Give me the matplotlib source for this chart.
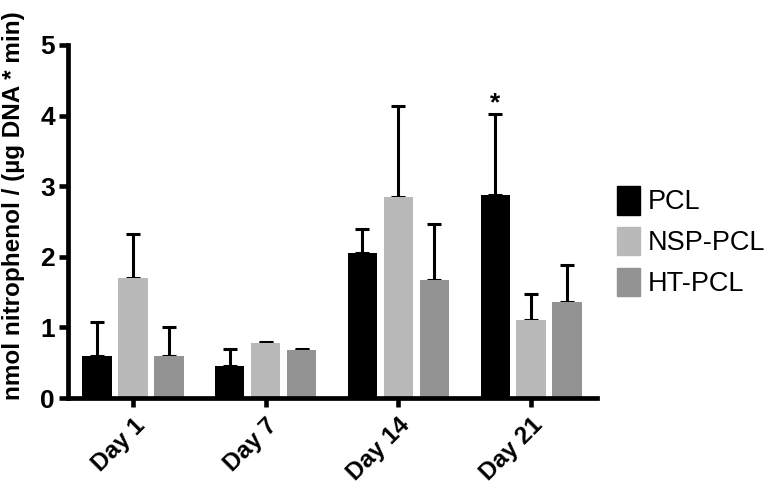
import numpy as np
import matplotlib.pyplot as plt
from matplotlib.patches import Patch

# ── data ------------------------------------------------------------------- #
days = ["Day 1", "Day 7", "Day 14", "Day 21"]
groups = ["PCL", "NSP-PCL", "HT-PCL"]
pcl = [0.59, 0.45, 2.05, 2.87]
nsp = [1.70, 0.78, 2.84, 1.11]
ht = [0.59, 0.68, 1.67, 1.36]
pcl_err = [0.48, 0.24, 0.34, 1.15]
nsp_err = [0.63, 0.01, 1.29, 0.37]
ht_err = [0.41, 0.02, 0.79, 0.53]
colors = ["#000000", "#b9b9b9", "#939393"]

plt.rcParams["font.family"] = ["Liberation Sans", "DejaVu Sans"]

fig = plt.figure(figsize=(7.73, 4.84), dpi=100)
ax = fig.add_axes([68/773, 1-398/484, (597-68)/773, (398-45)/484])

x = np.arange(len(days))
pitch, width = 0.271, 0.22
for i, (vals, errs) in enumerate([(pcl, pcl_err), (nsp, nsp_err), (ht, ht_err)]):
    pos = x + (i - 1) * pitch
    ax.bar(pos, vals, width, color=colors[i], zorder=2)
    ax.errorbar(pos, vals, yerr=[np.zeros(len(vals)), errs], fmt="none",
                ecolor="black", elinewidth=2.2, capsize=4.8, capthick=2.2, zorder=1)

# significance mark above Day 21 PCL
ax.text(x[3] - pitch, 4.18, "*", ha="center", va="center", fontsize=19, fontweight="bold")

ax.set_xlim(-0.49, 3.497)
ax.set_ylim(0, 5)
ax.set_yticks(range(6))
ax.set_xticks(x)
ax.set_xticklabels(days, rotation=45, ha="right", rotation_mode="anchor",
                   fontsize=17.5, fontweight="bold")
for t in ax.get_yticklabels():
    t.set_fontsize(19); t.set_fontweight("bold")
ax.tick_params(width=3.3, length=6.5, pad=3)
ax.tick_params(axis="x", pad=5)

for s in ["top", "right"]:
    ax.spines[s].set_visible(False)
for s in ["left", "bottom"]:
    ax.spines[s].set_linewidth(3.4)

fig.text(0.018, 1-400/484, "nmol nitrophenol / (µg DNA * min)", rotation=90,
         ha="center", va="bottom", fontsize=17.5, fontweight="bold")

handles = [Patch(color=c) for c in colors]
fig.legend(handles, groups, loc="upper left", bbox_to_anchor=(617/773, 1-186/484),
           frameon=False, fontsize=19.5, handlelength=0.85, handleheight=1.25,
           handletextpad=0.3, labelspacing=0.42, borderpad=0, borderaxespad=0)

fig.savefig("out.png", dpi=100)
